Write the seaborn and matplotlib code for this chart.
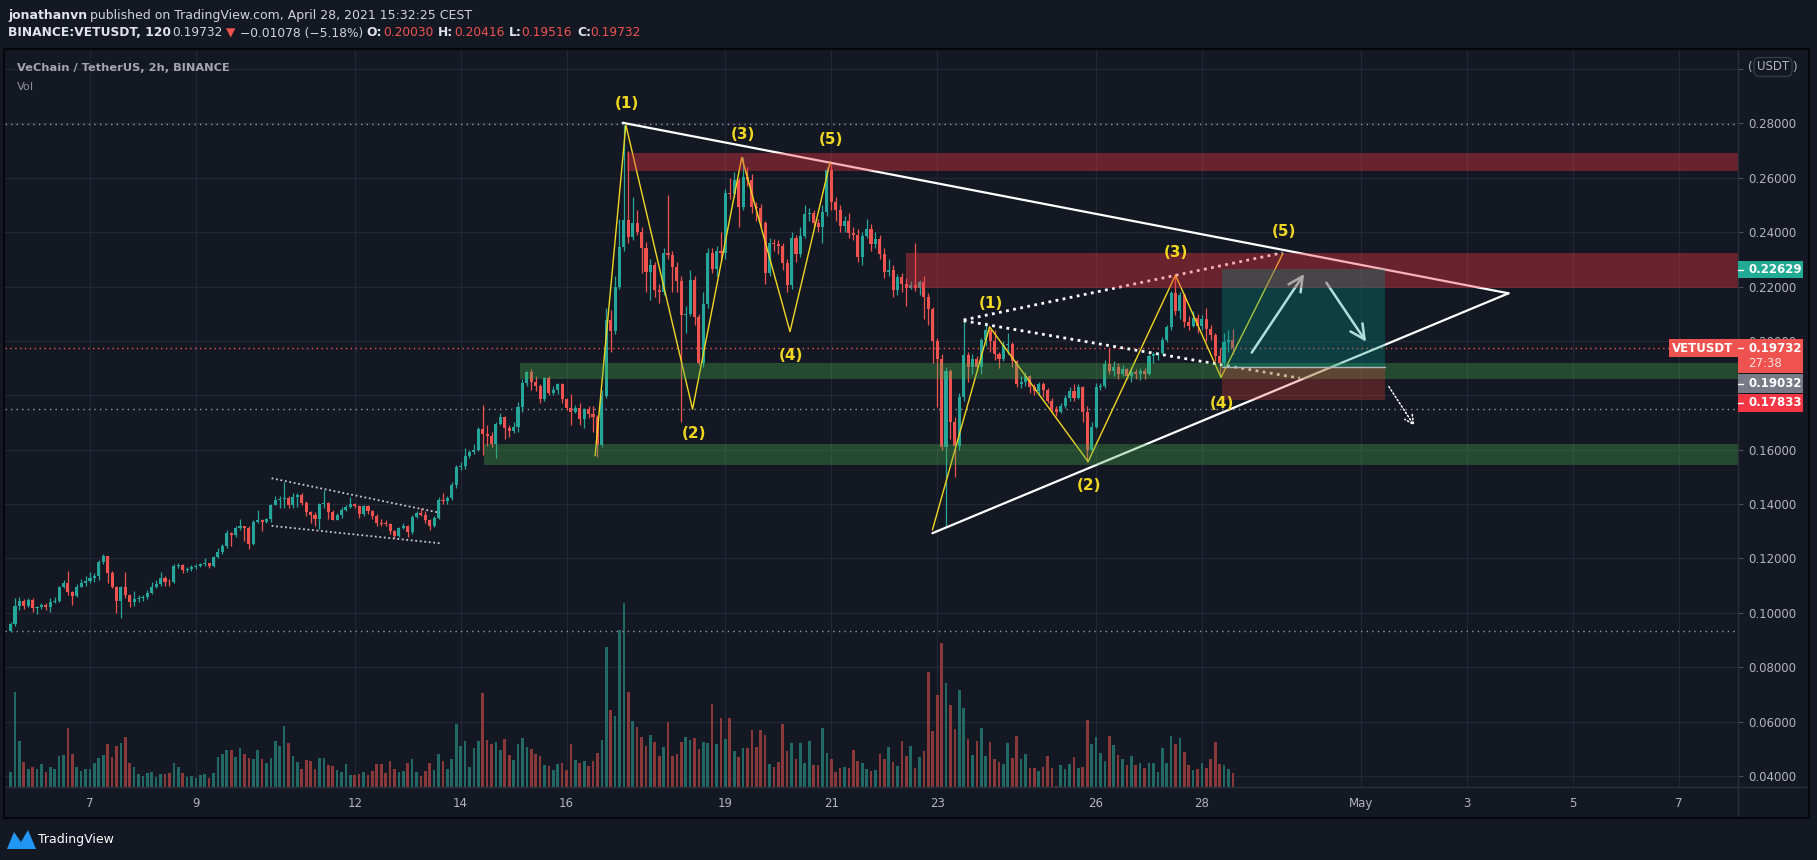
import numpy as np
import pandas as pd
import matplotlib
matplotlib.use("Agg")
import matplotlib.pyplot as plt
import seaborn as sns
from matplotlib.patches import Rectangle, Polygon
from matplotlib.lines import Line2D

W, H = 1817, 860
BG = "#141823"
UP, DOWN = "#26a69a", "#ef5350"
VOL_UP, VOL_DOWN = "#226865", "#8a393b"
YEL = "#f0d722"
TXT = "#b2b5be"

# ---------------- data: VETUSDT 2h candles, prices in 1e-4 USDT ----------------
first_open = 935
close_e4 = [
    960, 1025, 1043, 1025, 1046, 1017, 1022, 1030, 1020, 1040, 1045, 1095,
    1110, 1075, 1062, 1097, 1110, 1117, 1128, 1135, 1188, 1208, 1147, 1097,
    1045, 1097, 1064, 1040, 1050, 1055, 1058, 1072, 1097, 1107, 1130, 1115,
    1112, 1173, 1175, 1158, 1162, 1167, 1172, 1178, 1182, 1172, 1204, 1224,
    1246, 1295, 1285, 1312, 1318, 1312, 1255, 1334, 1340, 1336, 1344, 1397,
    1416, 1420, 1423, 1397, 1427, 1435, 1405, 1370, 1360, 1345, 1400, 1405,
    1370, 1343, 1360, 1380, 1390, 1400, 1393, 1362, 1392, 1375, 1355, 1332,
    1328, 1327, 1300, 1283, 1312, 1320, 1297, 1353, 1367, 1360, 1340, 1318,
    1350, 1415, 1410, 1422, 1470, 1537, 1540, 1577, 1590, 1600, 1676, 1658,
    1650, 1620, 1695, 1720, 1680, 1667, 1685, 1757, 1845, 1885, 1850, 1836,
    1785, 1863, 1810, 1820, 1840, 1785, 1755, 1740, 1754, 1713, 1748, 1733,
    1722, 1616, 1796, 2077, 2035, 2198, 2345, 2444, 2383, 2433, 2400, 2340,
    2253, 2280, 2187, 2180, 2324, 2316, 2270, 2220, 2096, 2100, 2224, 2088,
    1918, 2137, 2324, 2265, 2330, 2324, 2545, 2540, 2591, 2493, 2602, 2590,
    2493, 2490, 2435, 2250, 2360, 2355, 2350, 2287, 2206, 2377, 2320, 2385,
    2465, 2470, 2435, 2420, 2473, 2628, 2510, 2480, 2422, 2440, 2395, 2390,
    2310, 2385, 2413, 2357, 2375, 2320, 2255, 2260, 2187, 2235, 2210, 2195,
    2205, 2195, 2215, 2160, 2117, 2000, 1935, 1610, 1890, 1700, 1613, 1794,
    1948, 1905, 1935, 1905, 2003, 2040, 2000, 1950, 1935, 1985, 1990, 1925,
    1840, 1850, 1870, 1830, 1815, 1840, 1820, 1780, 1750, 1740, 1760, 1790,
    1815, 1790, 1830, 1740, 1600, 1685, 1830, 1835, 1915, 1890, 1905, 1880,
    1895, 1870, 1885, 1878, 1890, 1880, 1945, 1950, 1955, 2005, 2050, 2175,
    2110, 2170, 2070, 2055, 2085, 2055, 2080, 2045, 2020, 1945, 1920, 1995,
    2003, 1973,
]
high_e4 = [
    965, 1055, 1060, 1050, 1055, 1055, 1025, 1035, 1035, 1055, 1060, 1100,
    1120, 1153, 1080, 1105, 1125, 1135, 1150, 1145, 1195, 1215, 1210, 1155,
    1100, 1100, 1150, 1070, 1080, 1065, 1065, 1085, 1115, 1120, 1150, 1135,
    1125, 1178, 1185, 1180, 1170, 1175, 1180, 1185, 1200, 1185, 1210, 1240,
    1255, 1305, 1298, 1318, 1345, 1320, 1318, 1340, 1380, 1345, 1350, 1400,
    1430, 1430, 1480, 1428, 1440, 1440, 1440, 1410, 1375, 1370, 1405, 1450,
    1408, 1378, 1368, 1390, 1395, 1425, 1405, 1395, 1395, 1395, 1380, 1365,
    1345, 1342, 1330, 1305, 1315, 1330, 1322, 1360, 1375, 1385, 1375, 1345,
    1355, 1425, 1440, 1430, 1480, 1545, 1555, 1605, 1598, 1620, 1685, 1765,
    1690, 1665, 1700, 1735, 1725, 1690, 1700, 1775, 1860, 1890, 1895, 1870,
    1840, 1868, 1870, 1835, 1845, 1845, 1790, 1805, 1765, 1770, 1755, 1760,
    1760, 1728, 1820, 2120, 2115, 2240, 2450, 2794, 2700, 2530, 2480, 2420,
    2365, 2300, 2290, 2210, 2340, 2537, 2330, 2290, 2240, 2130, 2260, 2240,
    2100, 2180, 2340, 2340, 2350, 2400, 2560, 2600, 2620, 2600, 2676, 2640,
    2615, 2510, 2505, 2440, 2380, 2375, 2370, 2360, 2300, 2400, 2390, 2420,
    2500, 2490, 2480, 2450, 2500, 2640, 2658, 2530, 2500, 2460, 2470, 2420,
    2410, 2400, 2450, 2430, 2400, 2390, 2340, 2300, 2280, 2245, 2250, 2230,
    2220, 2360, 2225, 2240, 2175, 2125, 2010, 1950, 1905, 1895, 1720, 1810,
    2077, 1960, 1950, 1945, 2010, 2070, 2045, 2040, 1960, 2000, 2030, 1995,
    1930, 1870, 1885, 1875, 1840, 1850, 1850, 1825, 1790, 1760, 1770, 1800,
    1830, 1840, 1840, 1835, 1760, 1700, 1845, 1845, 1930, 1975, 1925, 1920,
    1910, 1900, 1905, 1895, 1900, 1900, 1950, 1960, 1960, 2015, 2060, 2185,
    2238, 2180, 2175, 2090, 2110, 2100, 2095, 2120, 2060, 2030, 1975, 2030,
    2040, 2042,
]
low_e4 = [
    930, 950, 1010, 1015, 1020, 1005, 995, 1015, 1010, 1005, 1035, 1040,
    1090, 1065, 1030, 1060, 1095, 1100, 1110, 1115, 1120, 1180, 1110, 1090,
    1000, 980, 1055, 1020, 1025, 1040, 1045, 1050, 1070, 1090, 1100, 1100,
    1100, 1110, 1165, 1145, 1150, 1155, 1160, 1168, 1172, 1165, 1168, 1200,
    1215, 1240, 1245, 1280, 1305, 1265, 1235, 1250, 1330, 1300, 1330, 1335,
    1395, 1385, 1385, 1385, 1385, 1390, 1395, 1355, 1330, 1320, 1310, 1385,
    1345, 1340, 1340, 1350, 1375, 1385, 1385, 1350, 1355, 1365, 1345, 1320,
    1320, 1318, 1290, 1275, 1280, 1310, 1278, 1290, 1350, 1355, 1330, 1305,
    1315, 1345, 1400, 1400, 1415, 1460, 1525, 1530, 1570, 1585, 1595, 1580,
    1615, 1610, 1570, 1690, 1640, 1645, 1660, 1665, 1740, 1835, 1820, 1815,
    1770, 1780, 1800, 1800, 1805, 1770, 1745, 1690, 1735, 1690, 1680, 1715,
    1665, 1574, 1610, 1790, 1960, 2025, 2190, 2330, 2360, 2370, 2390, 2250,
    2180, 2150, 2160, 2140, 2170, 2300, 2180, 2180, 1700, 2030, 2090, 2060,
    1910, 1905, 2120, 2250, 2240, 2290, 2300, 2520, 2530, 2420, 2480, 2570,
    2470, 2440, 2420, 2210, 2240, 2330, 2320, 2260, 2180, 2190, 2290, 2310,
    2380, 2440, 2420, 2400, 2360, 2460, 2480, 2440, 2400, 2400, 2380, 2370,
    2290, 2280, 2380, 2330, 2340, 2300, 2230, 2240, 2160, 2170, 2180, 2130,
    2190, 2185, 2170, 2080, 2060, 1920, 1757, 1600, 1316, 1640, 1500, 1600,
    1780, 1850, 1880, 1890, 1880, 1980, 1960, 1930, 1900, 1925, 1950, 1905,
    1830, 1825, 1835, 1810, 1800, 1800, 1795, 1770, 1740, 1725, 1735, 1755,
    1780, 1780, 1785, 1700, 1555, 1590, 1680, 1820, 1825, 1880, 1870, 1860,
    1870, 1860, 1850, 1860, 1855, 1860, 1875, 1920, 1930, 1950, 1995, 2040,
    2095, 2080, 2050, 2040, 2050, 2030, 2040, 2000, 2005, 1925, 1880, 1905,
    1960, 1952,
]
volume = [
    15, 95, 46, 25, 18, 20, 18, 23, 15, 20, 18, 31,
    32, 59, 33, 20, 16, 18, 18, 24, 29, 32, 43, 30,
    41, 44, 50, 24, 20, 13, 11, 14, 15, 10, 13, 13,
    14, 24, 20, 14, 10, 11, 9, 12, 13, 9, 14, 30,
    33, 37, 37, 30, 39, 33, 29, 28, 37, 28, 24, 29,
    46, 41, 61, 44, 31, 25, 18, 27, 26, 18, 29, 29,
    22, 21, 17, 15, 23, 12, 12, 13, 15, 12, 16, 23,
    23, 14, 26, 18, 15, 16, 24, 28, 15, 11, 16, 24,
    17, 33, 26, 18, 28, 63, 41, 46, 20, 39, 46, 94,
    47, 43, 45, 37, 48, 32, 27, 43, 49, 40, 38, 33,
    31, 22, 21, 17, 23, 24, 17, 43, 27, 24, 26, 21,
    26, 34, 47, 140, 77, 71, 157, 184, 95, 66, 60, 50,
    41, 52, 45, 31, 40, 65, 31, 33, 45, 50, 47, 49,
    38, 45, 44, 83, 43, 69, 48, 69, 36, 30, 39, 39,
    57, 40, 57, 52, 23, 20, 25, 63, 36, 44, 28, 44,
    24, 46, 22, 22, 59, 34, 28, 15, 19, 20, 19, 37,
    26, 24, 18, 16, 17, 33, 28, 40, 25, 21, 46, 31,
    41, 19, 30, 36, 115, 56, 92, 144, 104, 82, 58, 97,
    79, 48, 32, 46, 59, 31, 45, 28, 25, 23, 44, 29,
    51, 28, 33, 19, 19, 16, 20, 31, 19, 1, 22, 18,
    23, 30, 19, 20, 67, 43, 50, 34, 26, 51, 42, 32,
    28, 22, 31, 22, 24, 19, 24, 24, 15, 39, 24, 51,
    43, 49, 35, 22, 17, 18, 24, 19, 28, 45, 23, 22,
    18, 14,
]

# axis ticks
day_ticks = [7, 9, 12, 14, 16, 19, 21, 23, 26, 28, 31, 33, 35, 37]
day_labels = ["7", "9", "12", "14", "16", "19", "21", "23", "26", "28", "May", "3", "5", "7"]
price_ticks = [0.04, 0.06, 0.08, 0.10, 0.12, 0.14, 0.16, 0.18, 0.20, 0.22, 0.24, 0.26, 0.28, 0.30]
hidden_ticks = [0.18, 0.30]   # covered by badges in the original

# drawings (day of April, price)
tri_upper_day, tri_upper_px = [17.06, 33.79], [0.2802, 0.2175]
tri_lower_day, tri_lower_px = [22.91, 33.79], [0.1293, 0.2175]
wave_a_day = [16.54, 17.12, 18.38, 19.31, 20.22, 20.98]
wave_a_px = [0.1578, 0.2794, 0.1749, 0.2675, 0.2034, 0.2659]
wave_b_day = [22.91, 23.99, 25.85, 27.50, 28.36, 29.53]
wave_b_px = [0.1305, 0.2052, 0.1556, 0.2242, 0.1866, 0.2322]
wave_labels = ["(1)", "(2)", "(3)", "(4)", "(5)"]
label_a_day = [17.14, 18.40, 19.33, 20.24, 20.99]
label_a_px = [0.2871, 0.1658, 0.2757, 0.1945, 0.2741]
label_b_day = [24.01, 25.86, 27.51, 28.37, 29.54]
label_b_px = [0.2138, 0.1467, 0.2325, 0.1771, 0.2401]
chan_up_day, chan_up_px = [23.50, 29.52], [0.2077, 0.2324]
chan_dn_day, chan_dn_px = [23.50, 29.85], [0.2074, 0.1863]
flag_top_day, flag_top_px = [10.43, 13.61], [0.1495, 0.1368]
flag_bot_day, flag_bot_px = [10.43, 13.61], [0.1320, 0.1256]
arrow_up = [(28.94, 0.1957), (29.93, 0.2246)]
arrow_dn = [(30.35, 0.2214), (31.10, 0.1997)]
arrow_dot = [(31.53, 0.1832), (32.01, 0.1688)]
red_zones = [(17.14, 0.2625, 0.2692), (22.42, 0.2193, 0.2322)]
green_zones = [(15.12, 0.1859, 0.1918), (14.44, 0.1544, 0.1620)]
pos_start, pos_end = 28.38, 31.46
entry, target, stop = 0.19032, 0.22629, 0.17833
hlines_gray = [0.2798, 0.1749, 0.0932]
last_price = 0.19732

X0, X1 = 5.395, 38.116
Y0, Y1 = 0.03599, 0.30695

sns.set_theme(style="dark", rc={"axes.facecolor": BG, "figure.facecolor": BG,
                                "grid.color": "#232733", "text.color": "#d1d4dc",
                                "patch.force_edgecolor": False})
plt.rcParams["font.family"] = ["DejaVu Sans"]


def fx(x):
    return x / W


def fy(y):
    return 1 - y / H


fig = plt.figure(figsize=(W / 100, H / 100), dpi=100, facecolor=BG)
rect = [fx(5), fy(787), fx(1737.6) - fx(5), fy(50) - fy(787)]
ax_vol = fig.add_axes(rect, facecolor=BG)
ax = fig.add_axes(rect, facecolor="none", sharex=ax_vol)

# candles frame
t = ((pd.date_range("2021-04-05 12:00", periods=len(close_e4), freq="2h")
      - pd.Timestamp("2021-04-01")) / pd.Timedelta(days=1)).values + 1
df = pd.DataFrame({"t": t, "close": np.array(close_e4) / 1e4,
                   "high": np.array(high_e4) / 1e4, "low": np.array(low_e4) / 1e4,
                   "volume": volume})
df["open"] = np.r_[first_open, close_e4[:-1]] / 1e4
up = df["close"] >= df["open"]
colors = np.where(up, UP, DOWN)

# volume pane (behind the price pane), with the grid
ax_vol.bar(df["t"], df["volume"], width=0.05, color=np.where(up, VOL_UP, VOL_DOWN),
           edgecolor="none", linewidth=0, zorder=2)
ax_vol.set_ylim(0, 737)
ax_vol.set_xlim(X0, X1)
for d in day_ticks:
    ax_vol.axvline(d, color="#232733", lw=0.9, zorder=0)
for p in price_ticks:
    ax_vol.axhline((p - Y0) / (Y1 - Y0) * 737, color="#232733", lw=0.9, zorder=0)
ax_vol.tick_params(left=False, labelleft=False, bottom=False, labelbottom=False)
for s in ax_vol.spines.values():
    s.set_visible(False)

# price pane
ax.set_xlim(X0, X1)
ax.set_ylim(Y0, Y1)
ax.set_xticks(day_ticks)
ax.set_xticklabels(day_labels)
ax.set_yticks(price_ticks)
ax.set_yticklabels(["" if p in hidden_ticks else f"{p:.5f}" for p in price_ticks])
ax.yaxis.tick_right()
ax.grid(False)
ax.tick_params(axis="y", length=3.6, width=0.8, color="#4a4e59", pad=3.9, labelsize=8.5, labelcolor=TXT)
ax.tick_params(axis="x", length=3, width=0.8, color="#4a4e59", pad=4.5, labelsize=8.5, labelcolor=TXT)
for s in ax.spines.values():
    s.set_visible(False)

# horizontal reference lines
for p in hlines_gray:
    ax.axhline(p, color="#9598a1", lw=1, ls=(0, (1, 3)), zorder=1)
ax.axhline(last_price, color=DOWN, lw=1, ls=(0, (1, 2.5)), zorder=1)

# candles
diff = df["close"] - df["open"]
body = diff.where(diff.abs() > 0.0002, 0.0002)
ax.vlines(df["t"], df["low"], df["high"], colors=colors, lw=0.9, zorder=2)
ax.bar(df["t"], body, bottom=df["open"], width=0.058, color=colors,
       edgecolor="none", linewidth=0, zorder=2.1)

# triangle
ax.plot(tri_upper_day, tri_upper_px, color="white", lw=1.6, zorder=3, solid_capstyle="round")
ax.plot(tri_lower_day, tri_lower_px, color="white", lw=1.6, zorder=3, solid_capstyle="round")

# elliott waves
sns.lineplot(x=wave_a_day, y=wave_a_px, ax=ax, color=YEL, lw=1.0, sort=False, estimator=None, zorder=3)
sns.lineplot(x=wave_b_day, y=wave_b_px, ax=ax, color=YEL, lw=1.0, sort=False, estimator=None, zorder=3)
for lab, d, p in zip(wave_labels, label_a_day, label_a_px):
    ax.text(d, p, lab, color=YEL, fontsize=11, fontweight="bold", ha="center", va="center", zorder=8)
for lab, d, p in zip(wave_labels, label_b_day, label_b_px):
    ax.text(d, p, lab, color=YEL, fontsize=11, fontweight="bold", ha="center", va="center", zorder=8)

# dotted channel + flag
ax.plot(chan_up_day, chan_up_px, color="white", lw=2, ls=(0, (1, 1.6)), zorder=3)
ax.plot(chan_dn_day, chan_dn_px, color="white", lw=2, ls=(0, (1, 1.6)), zorder=3)
ax.plot(flag_top_day, flag_top_px, color="#c7cad1", lw=1.3, ls=(0, (1, 1.5)), zorder=3)
ax.plot(flag_bot_day, flag_bot_px, color="#c7cad1", lw=1.3, ls=(0, (1, 1.5)), zorder=3)

# arrows
for (a, b), ls, lw, ms in [(arrow_up, "-", 1.8, 26), (arrow_dn, "-", 1.8, 26),
                           (arrow_dot, (0, (1, 1.5)), 1.1, 16)]:
    ax.annotate("", xy=b, xytext=a, zorder=4,
                arrowprops=dict(arrowstyle="->", color="white", lw=lw, ls=ls,
                                mutation_scale=ms, shrinkA=0, shrinkB=0))

# zones
for d0, lo, hi in red_zones:
    ax.add_patch(Rectangle((d0, lo), X1 - d0, hi - lo, facecolor="#f23645", alpha=0.38,
                           edgecolor="none", zorder=5))
for d0, lo, hi in green_zones:
    ax.add_patch(Rectangle((d0, lo), X1 - d0, hi - lo, facecolor="#4caf50", alpha=0.33,
                           edgecolor="none", zorder=5))
ax.add_patch(Rectangle((pos_start, entry), pos_end - pos_start, target - entry,
                       facecolor="#009688", alpha=0.3, edgecolor="none", zorder=5))
ax.add_patch(Rectangle((pos_start, stop), pos_end - pos_start, entry - stop,
                       facecolor="#f44336", alpha=0.27, edgecolor="none", zorder=5))
ax.plot([pos_start, pos_end], [entry, entry], color="#b2b5be", lw=1, zorder=5)

# ---------------- figure furniture ----------------
fig.add_artist(Line2D([fx(1737.6)] * 2, [fy(49), fy(818)], color="#2a2e39", lw=1, zorder=2))
fig.add_artist(Line2D([fx(4), fx(1809)], [fy(787)] * 2, color="#2a2e39", lw=1, zorder=2))
fig.add_artist(Rectangle((fx(4), fy(818)), fx(1809) - fx(4), fy(49) - fy(818), fill=False,
                         edgecolor="#05070a", lw=1.5, zorder=9))


def badge(y0, y1, color, x0=1737.6, x1=1803):
    fig.add_artist(Rectangle((fx(x0), fy(y1)), fx(x1) - fx(x0), fy(y0) - fy(y1),
                             facecolor=color, edgecolor="none", zorder=5))


def badge_text(y, s, x=1748, color="white", weight="bold", tick=True):
    fig.text(fx(x), fy(y), s, color=color, fontsize=8.5, fontweight=weight,
             ha="left", va="center", zorder=6)
    if tick:
        fig.add_artist(Line2D([fx(1738), fx(1743)], [fy(y)] * 2, color="white", lw=1, zorder=6))


badge(260.7, 278.3, "#22ab94")
badge_text(269.5, "0.22629")
badge(339, 357, DOWN, x0=1669, x1=1737.6)
fig.text(fx(1703), fy(348), "VETUSDT", color="white", fontsize=8.5, fontweight="bold",
         ha="center", va="center", zorder=6)
badge(339, 373, DOWN)
badge_text(348, "0.19732")
badge_text(364, "27:38", color="#fde0e0", weight="normal", tick=False)
badge(374, 393, "#787b86")
badge_text(383.5, "0.19032")
badge(394, 412, "#f23645")
badge_text(403, "0.17833")

# currency box
fig.text(fx(1748), fy(67), "(", color=TXT, fontsize=8.5, ha="left", va="center")
fig.text(fx(1797), fy(67), ")", color=TXT, fontsize=8.5, ha="right", va="center")
fig.text(fx(1773), fy(67), "USDT", color=TXT, fontsize=8.5, ha="center", va="center",
         bbox=dict(boxstyle="round,pad=0.25,rounding_size=0.5", facecolor=BG, edgecolor="#363a45", lw=1))

# header
fig.text(fx(8), fy(15), "jonathanvn", color="#e0e3eb", fontsize=9, fontweight="bold", va="center")
fig.text(fx(90), fy(15), "published on TradingView.com, April 28, 2021 15:32:25 CEST",
         color="#d1d4dc", fontsize=9, va="center")
runs = [(8, "BINANCE:VETUSDT, 120", "#e0e3eb", "bold"), (172, "0.19732", "#d1d4dc", "normal"),
        (226, "▼", DOWN, "normal"), (240, "−0.01078 (−5.18%)", "#d1d4dc", "normal"),
        (366, "O:", "#e0e3eb", "bold"), (383, "0.20030", DOWN, "normal"),
        (438, "H:", "#e0e3eb", "bold"), (454, "0.20416", DOWN, "normal"),
        (509, "L:", "#e0e3eb", "bold"), (521, "0.19516", DOWN, "normal"),
        (577, "C:", "#e0e3eb", "bold"), (590, "0.19732", DOWN, "normal")]
for x, s, c, w in runs:
    fig.text(fx(x), fy(33), s, color=c, fontsize=8.8, fontweight=w, va="center", ha="left")

fig.text(fx(17), fy(68), "VeChain / TetherUS, 2h, BINANCE", color="#a3a6af", fontsize=8.2,
         fontweight="bold", va="center")
fig.text(fx(17), fy(87), "Vol", color="#8e919a", fontsize=8.2, va="center")

# TradingView logo
fig.add_artist(Polygon([(fx(7), fy(849)), (fx(14), fy(832)), (fx(21), fy(842)),
                        (fx(28), fy(830)), (fx(36), fy(849))], closed=True,
                       facecolor="#2196f3", edgecolor="none", zorder=5))
fig.text(fx(38), fy(839), "TradingView", color="white", fontsize=9, va="center")

fig.savefig("out.png", dpi=100, facecolor=BG)
